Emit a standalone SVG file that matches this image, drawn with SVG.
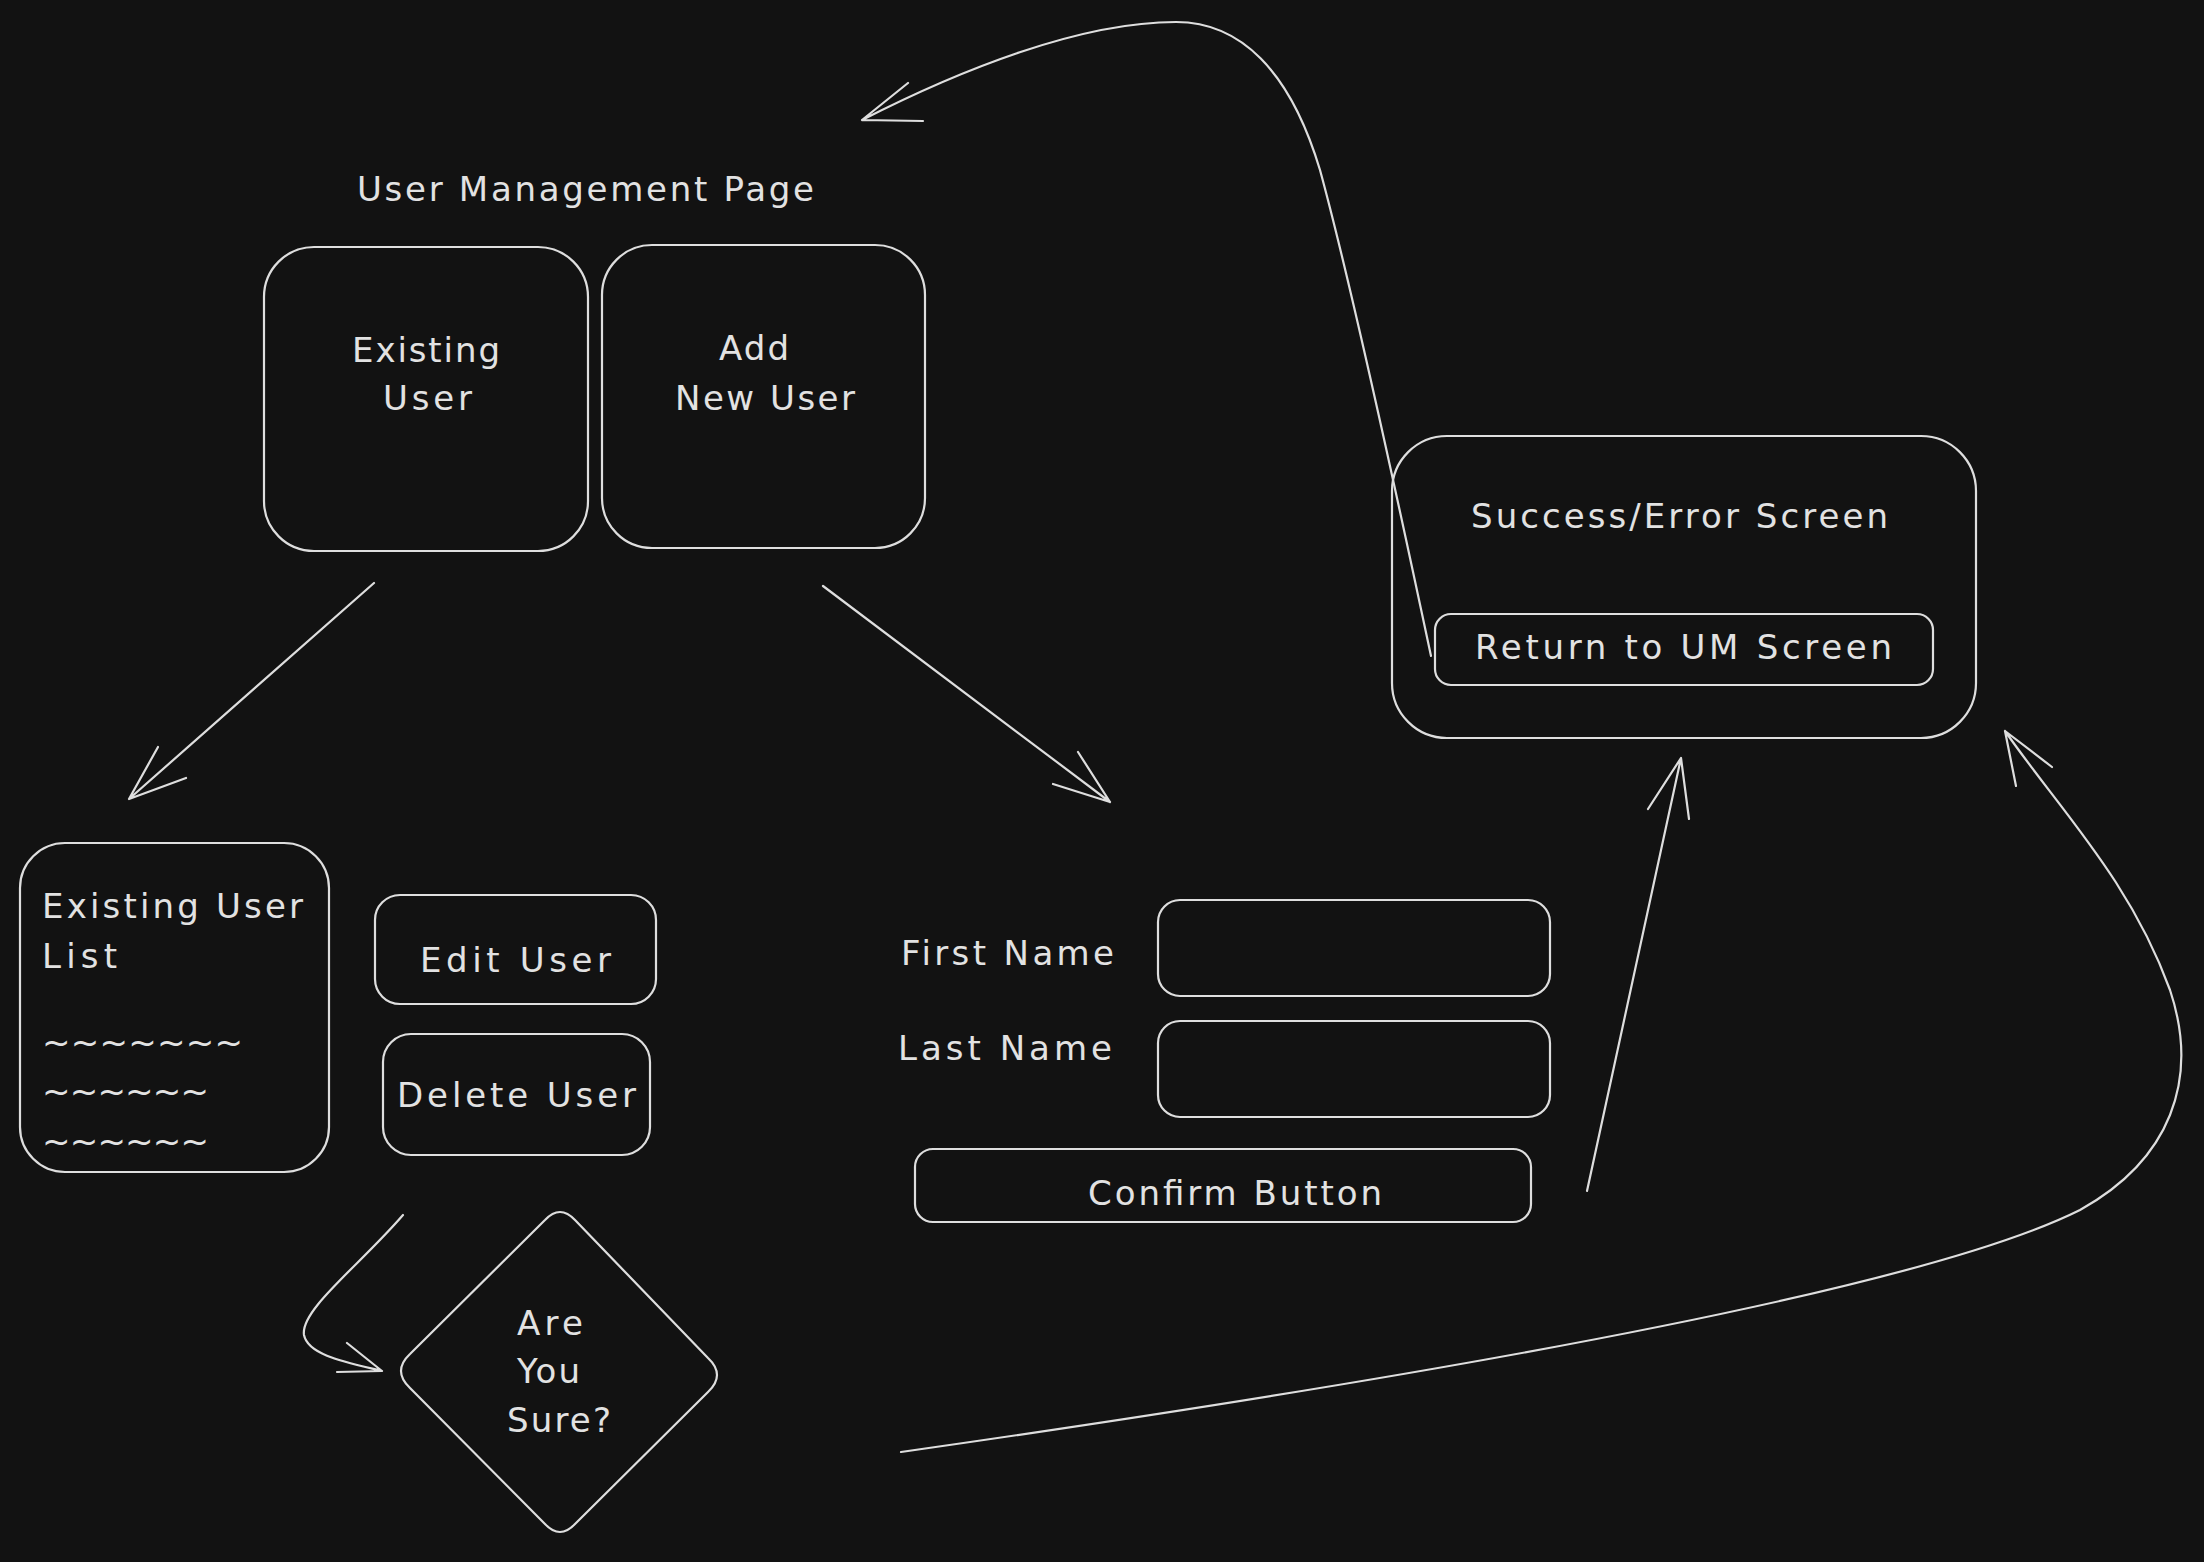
<svg xmlns="http://www.w3.org/2000/svg" width="2204" height="1562" viewBox="0 0 2204 1562">
<style>
.bg{fill:#121212}
.s{fill:none;stroke:#dedede;stroke-width:2.2;stroke-linecap:round;stroke-linejoin:round}
.t{fill:#e2e2e2;font-family:"DejaVu Sans","Liberation Sans",sans-serif;font-size:34px}
</style>
<rect class="bg" x="0" y="0" width="2204" height="1562"/>
<g id="title"><text class="t" x="357" y="201" textLength="457">User Management Page</text></g>
<g id="existing-user">
<rect class="s" x="264" y="247" width="324" height="304" rx="50"/>
<text class="t" x="352" y="362" textLength="148">Existing</text>
<text class="t" x="383" y="410" textLength="89">User</text>
</g>
<g id="add-new-user">
<rect class="s" x="602" y="245" width="323" height="303" rx="50"/>
<text class="t" x="719" y="360" textLength="70">Add</text>
<text class="t" x="675" y="410" textLength="180">New User</text>
</g>
<g id="existing-user-list">
<rect class="s" x="20" y="843" width="309" height="329" rx="45"/>
<text class="t" x="42" y="918" textLength="261">Existing User</text>
<text class="t" x="42" y="968" textLength="75">List</text>
<text class="t" x="42" y="1054" textLength="201">~~~~~~~</text>
<text class="t" x="42" y="1103" textLength="167">~~~~~~</text>
<text class="t" x="42" y="1153" textLength="167">~~~~~~</text>
</g>
<g id="edit-user">
<rect class="s" x="375" y="895" width="281" height="109" rx="25"/>
<text class="t" x="420" y="972" textLength="191">Edit User</text>
</g>
<g id="delete-user">
<rect class="s" x="383" y="1034" width="267" height="121" rx="28"/>
<text class="t" x="397" y="1107" textLength="239">Delete User</text>
</g>
<g id="are-you-sure">
<path class="s" d="M575 1220 L708 1358 Q726 1375 708 1392 L575 1524 Q560 1540 545 1524 L410 1388 Q392 1371 410 1354 L545 1220 Q560 1204 575 1220 Z"/>
<text class="t" x="517" y="1335" textLength="66">Are</text>
<text class="t" x="517" y="1383" textLength="63">You</text>
<text class="t" x="507" y="1432" textLength="104">Sure?</text>
</g>
<g id="first-name">
<text class="t" x="901" y="965" textLength="213">First Name</text>
<rect class="s" x="1158" y="900" width="392" height="96" rx="22"/>
</g>
<g id="last-name">
<text class="t" x="898" y="1060" textLength="214">Last Name</text>
<rect class="s" x="1158" y="1021" width="392" height="96" rx="22"/>
</g>
<g id="confirm-button">
<rect class="s" x="915" y="1149" width="616" height="73" rx="18"/>
<text class="t" x="1088" y="1205" textLength="294">Confirm Button</text>
</g>
<g id="success-error-screen">
<rect class="s" x="1392" y="436" width="584" height="302" rx="55"/>
<text class="t" x="1471" y="528" textLength="417">Success/Error Screen</text>
</g>
<g id="return-button">
<rect class="s" x="1435" y="614" width="498" height="71" rx="16"/>
<text class="t" x="1475" y="659" textLength="417">Return to UM Screen</text>
</g>
<g id="connectors">
<path class="s" d="M374 583 L129 799 M158 747 L129 799 L186 778"/>
<path class="s" d="M823 586 L1110 802 M1078 752 L1110 802 L1053 784"/>
<path class="s" d="M403 1215 C360 1265 300 1310 304 1335 C308 1355 345 1362 382 1371 M347 1343 L382 1371 L337 1372"/>
<path class="s" d="M1587 1191 L1681 758 M1648 809 L1681 758 L1689 819"/>
<path class="s" d="M1431 656 C1400 510 1350 280 1320 170 C1290 70 1240 22 1176 22 C1080 22 960 70 862 120 M908 83 L862 120 L923 121"/>
<path class="s" d="M901 1452 C1300 1395 1900 1300 2080 1210 C2170 1160 2200 1080 2170 990 C2130 880 2060 810 2005 731 M2052 767 L2005 731 L2016 786"/>
</g>
</svg>
